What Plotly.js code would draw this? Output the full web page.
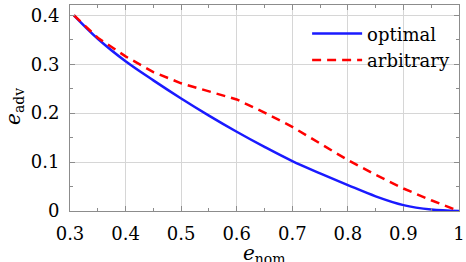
<!DOCTYPE html>
<html>
<head>
<meta charset="utf-8">
<script src="https://cdn.plot.ly/plotly-3.0.1.min.js"></script>
<style>html,body{margin:0;padding:0;background:#fff;}#chart{width:466px;height:262px;}</style>
</head>
<body>
<div id="chart"></div>
<script>
const eNomOptimal = [0.307, 0.35, 0.4, 0.45, 0.5, 0.55, 0.6, 0.65, 0.7, 0.75, 0.8, 0.85, 0.9, 0.95, 1.0];
const eAdvOptimal = [0.400, 0.352, 0.306, 0.267, 0.230, 0.195, 0.162, 0.131, 0.102, 0.077, 0.053, 0.030, 0.012, 0.003, 0.000];
const eNomArbitrary = [0.307, 0.35, 0.4, 0.45, 0.5, 0.55, 0.6, 0.65, 0.7, 0.75, 0.8, 0.85, 0.9, 0.95, 1.0];
const eAdvArbitrary = [0.400, 0.354, 0.316, 0.284, 0.261, 0.245, 0.228, 0.201, 0.172, 0.138, 0.104, 0.074, 0.046, 0.022, 0.000];
const seriesNames = ["optimal", "arbitrary"];
const xTitle = "<i>e</i><sub>nom</sub>";
const yTitle = "<i>e</i><sub>adv</sub>";

const serif = "DejaVu Serif, Times New Roman, serif";
const font = {family: serif, size: 18, color: "#000"};
const axisCommon = {
  showline: true, linecolor: "#8c8c8c", linewidth: 1, mirror: "allticks",
  ticks: "inside", ticklen: 5, tickcolor: "#8c8c8c", tickwidth: 1,
  showgrid: true, gridcolor: "#d6d6d6", gridwidth: 1, zeroline: false,
  dtick: 0.1, tickfont: font, ticklabelstandoff: 6,
  minor: {ticks: "inside", ticklen: 3, dtick: 0.05, tickcolor: "#8c8c8c", showgrid: false}
};

const data = [
  {x: eNomOptimal, y: eAdvOptimal, name: seriesNames[0], mode: "lines",
   line: {color: "#1a1aff", width: 2.5, shape: "spline", smoothing: 1}},
  {x: eNomArbitrary, y: eAdvArbitrary, name: seriesNames[1], mode: "lines",
   line: {color: "#ff0000", width: 2.5, dash: "9px,6px"}}
];

const layout = {
  width: 466, height: 262,
  margin: {l: 70, r: 7, t: 5, b: 51},
  paper_bgcolor: "#fff", plot_bgcolor: "#fff",
  font: font,
  showlegend: true,
  legend: {x: 0.99, y: 0.95, xanchor: "right", yanchor: "top", bgcolor: "rgba(255,255,255,0)",
           font: font, itemwidth: 50, tracegroupgap: 0},
  xaxis: Object.assign({}, axisCommon, {range: [0.3, 1.0], tick0: 0.3}),
  yaxis: Object.assign({}, axisCommon, {range: [0, 0.421], tick0: 0}),
  annotations: [
    {text: xTitle, xref: "paper", yref: "paper", x: 0.5, y: -0.21, xanchor: "center", yanchor: "middle",
     showarrow: false, font: {family: serif, size: 20, color: "#000"}},
    {text: yTitle, xref: "paper", yref: "paper", x: -0.144, y: 0.51, xanchor: "center", yanchor: "middle",
     textangle: -90, showarrow: false, font: {family: serif, size: 20, color: "#000"}}
  ]
};

Plotly.newPlot("chart", data, layout, {staticPlot: true, displayModeBar: false});
</script>
</body>
</html>
